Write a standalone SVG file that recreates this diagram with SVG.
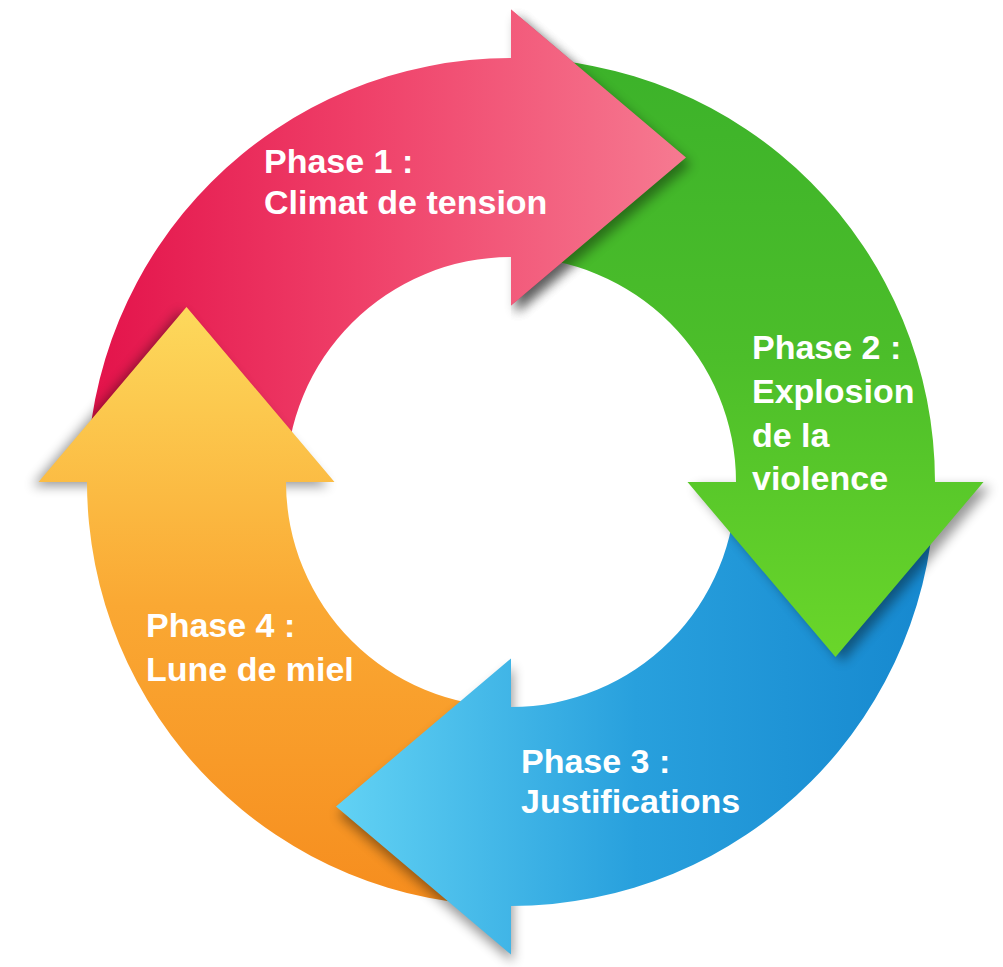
<svg xmlns="http://www.w3.org/2000/svg" xmlns:xlink="http://www.w3.org/1999/xlink" width="1003" height="967" viewBox="0 0 1003 967">
  <defs>
    <style>
      .lbl { font-family: "Liberation Sans", Arial, sans-serif; font-weight: bold; font-size: 34px; fill: #ffffff; }
      .shadow { fill: #000000; opacity: 0.4; filter: url(#blur); }
    </style>
    <filter id="blur" x="-30%" y="-30%" width="160%" height="160%">
      <feGaussianBlur stdDeviation="6"/>
    </filter>
    <path id="arrowShape" d="M 87 482 A 424 424 0 0 1 511 58 L 511 9.5 L 686 157.5 L 511 305.5 L 511 257 A 225 225 0 0 0 286 482 Z"/>
    <linearGradient id="gRed" gradientUnits="userSpaceOnUse" x1="87" y1="0" x2="686" y2="0">
      <stop offset="0" stop-color="#e3124a"/>
      <stop offset="0.45" stop-color="#ef3f68"/>
      <stop offset="1" stop-color="#f67a91"/>
    </linearGradient>
    <linearGradient id="gGreen" gradientUnits="userSpaceOnUse" x1="87" y1="0" x2="686" y2="0">
      <stop offset="0" stop-color="#3cb22a"/>
      <stop offset="0.5" stop-color="#4cbe2a"/>
      <stop offset="1" stop-color="#6ad62a"/>
    </linearGradient>
    <linearGradient id="gBlue" gradientUnits="userSpaceOnUse" x1="87" y1="0" x2="686" y2="0">
      <stop offset="0" stop-color="#1688cf"/>
      <stop offset="0.5" stop-color="#28a0dd"/>
      <stop offset="1" stop-color="#62d2f4"/>
    </linearGradient>
    <linearGradient id="gOrange" gradientUnits="userSpaceOnUse" x1="87" y1="0" x2="686" y2="0">
      <stop offset="0" stop-color="#f68d1e"/>
      <stop offset="0.5" stop-color="#faa833"/>
      <stop offset="1" stop-color="#fdd95c"/>
    </linearGradient>
    <clipPath id="redHeadClip">
      <rect x="511" y="0" width="492" height="480"/>
    </clipPath>
  </defs>

  <rect width="1003" height="967" fill="#ffffff"/>

  <g id="phase1">
    <polygon class="shadow" points="516,16.5 691,164.5 516,312.5"/>
    <use xlink:href="#arrowShape" href="#arrowShape" fill="url(#gRed)"/>
    <text class="lbl" x="264" y="173">Phase 1 :</text>
    <text class="lbl" x="264" y="214">Climat de tension</text>
  </g>

  <g id="phase4">
    <polygon class="shadow" points="32.5,486 180.5,311 328.5,486"/>
    <use xlink:href="#arrowShape" href="#arrowShape" fill="url(#gOrange)" transform="rotate(270 511 482)"/>
    <text class="lbl" x="146" y="637">Phase 4 :</text>
    <text class="lbl" x="146" y="681">Lune de miel</text>
  </g>

  <g id="phase3">
    <polygon class="shadow" points="513,962.5 338,814.5 513,666.5"/>
    <use xlink:href="#arrowShape" href="#arrowShape" fill="url(#gBlue)" transform="rotate(180 511 482)"/>
    <text class="lbl" x="521" y="773">Phase 3 :</text>
    <text class="lbl" x="521" y="813">Justifications</text>
  </g>

  <g id="phase2">
    <polygon class="shadow" points="990.5,487 842.5,662 694.5,487"/>
    <use xlink:href="#arrowShape" href="#arrowShape" fill="url(#gGreen)" transform="rotate(90 511 482)"/>
    <text class="lbl" x="752" y="359">Phase 2 :</text>
    <text class="lbl" x="752" y="403">Explosion</text>
    <text class="lbl" x="752" y="447">de la</text>
    <text class="lbl" x="752" y="490">violence</text>
  </g>

  <g id="connectors">
    <use id="phase1-head-overlap" xlink:href="#phase1" href="#phase1" clip-path="url(#redHeadClip)"/>
  </g>
</svg>
